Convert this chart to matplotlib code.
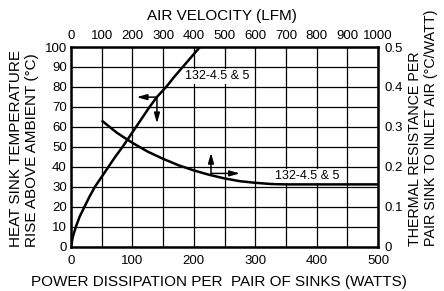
import matplotlib
matplotlib.use("Agg")
import matplotlib.pyplot as plt

# temperature rise vs power (bottom / left axes)
power_w = [0, 3, 8, 14, 22, 30, 39, 50, 61, 72, 84, 95, 106, 117, 128, 140,
           155, 168, 182, 196, 210]
temp_rise = [0, 5, 10, 15, 20, 25, 30, 35, 40, 45, 50, 55, 60, 65, 70, 75,
             80, 85, 90, 95, 100]

# thermal resistance vs air velocity (top / right axes)
velocity_lfm = [103, 150, 200, 250, 300, 350, 400, 450, 500, 550, 600, 650, 700, 1000]
resistance = [0.314, 0.285, 0.260, 0.238, 0.220, 0.204, 0.191, 0.180, 0.171,
              0.164, 0.160, 0.157, 0.156, 0.156]

curve_label = "132-4.5 & 5"

plt.rcParams['font.family'] = ['Liberation Sans', 'DejaVu Sans']

fig = plt.figure(figsize=(4.44, 2.91), dpi=100)
pos = [71/444, 1-246.7/291, 307/444, 199.7/291]
ax = fig.add_axes(pos)
ax2 = fig.add_axes(pos, frameon=False)

ax.set_xlim(0, 500)
ax.set_ylim(0, 100)
ax.set_xticks(range(0, 501, 50))
ax.set_xticklabels([str(v) if v % 100 == 0 else "" for v in range(0, 501, 50)])
ax.set_yticks(range(0, 101, 10))
ax.grid(True, color='black', lw=0.9)
ax.tick_params(length=0, labelsize=9.5)
ax.tick_params(axis='x', pad=6)
ax.tick_params(axis='y', pad=3)
for s in ax.spines.values():
    s.set_linewidth(1.8)

ax.plot(power_w, temp_rise, color='black', lw=1.8)

ax2.set_xlim(0, 1000)
ax2.set_ylim(0, 0.5)
ax2.xaxis.tick_top()
ax2.yaxis.tick_right()
ax2.set_xticks(range(0, 1001, 100))
ax2.set_yticks([0, 0.1, 0.2, 0.3, 0.4, 0.5])
ax2.set_yticklabels(["0", "0.1", "0.2", "0.3", "0.4", "0.5"])
ax2.tick_params(length=0, labelsize=9.5)
ax2.tick_params(axis='x', pad=3.5)
ax2.tick_params(axis='y', pad=5)
ax2.plot(velocity_lfm, resistance, color='black', lw=1.8)

# labels on curves
box = dict(facecolor='white', edgecolor='none', pad=1)
ax.text(185, 85.3, curve_label, fontsize=9, va='center', ha='left', bbox=box)
ax2.text(770, 0.177, curve_label, fontsize=9, va='center', ha='center', bbox=box)

# direction arrows
arr = dict(arrowstyle='-|>,head_length=0.6,head_width=0.17', color='black', lw=1.1,
           shrinkA=0, shrinkB=0)
ax.annotate("", xy=(107, 74.9), xytext=(140, 74.9), arrowprops=arr)
ax.annotate("", xy=(140, 61.8), xytext=(140, 74.9), arrowprops=arr)
ax2.annotate("", xy=(456, 0.235), xytext=(456, 0.1835), arrowprops=arr)
ax2.annotate("", xy=(550, 0.1835), xytext=(456, 0.1835), arrowprops=arr)

# axis titles
fig.text(222/444, 1-16/291, "AIR VELOCITY (LFM)", fontsize=11, ha='center', va='center')
fig.text(218.5/444, 1-282/291, "POWER DISSIPATION PER  PAIR OF SINKS (WATTS)",
         fontsize=11, ha='center', va='center')
fig.text(24/444, 1-247/291, "HEAT SINK TEMPERATURE\nRISE ABOVE AMBIENT (°C)",
         fontsize=11, ha='center', va='bottom', rotation=90, linespacing=1.1,
         multialignment='left')
fig.text(423/444, 1-246/291, "THERMAL RESISTANCE PER\nPAIR SINK TO INLET AIR (°C/WATT)",
         fontsize=10.3, ha='center', va='bottom', rotation=90, linespacing=1.15,
         multialignment='left')

fig.savefig("out.png", dpi=100)
